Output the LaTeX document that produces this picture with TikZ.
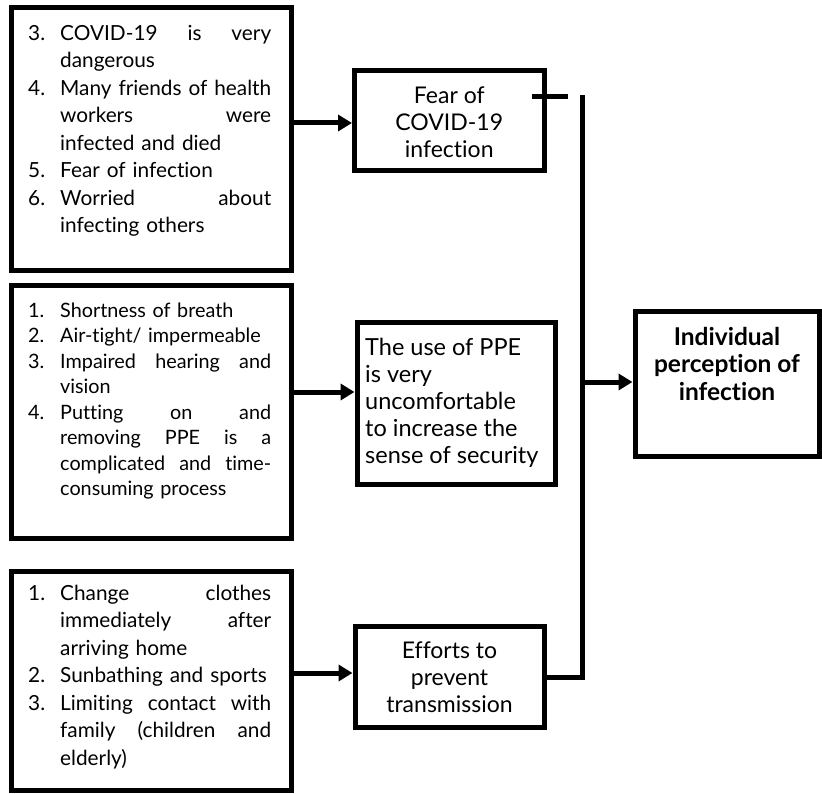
\documentclass[tikz,border=0pt]{standalone}
\usepackage{fontspec}
\setmainfont{Lato}[Ligatures=NoCommon]
\usetikzlibrary{arrows.meta}
\newlength\numw \setlength\numw{32pt}
\newlength\colw \setlength\colw{211pt}
\newcommand\nm[1]{\makebox[\numw][l]{#1}}
\newcommand\jl[1]{\makebox[\colw][l]{#1}}
\newcommand\hind{\hspace*{\numw}}
\begin{document}
\begin{tikzpicture}[x=1pt,y=-1pt,
  box/.style={draw, line width=5pt, inner sep=0pt, minimum width=#1},
  txt/.style={inner sep=0pt, anchor=north west, text width=243pt, align=left},
  ctr/.style={inner sep=0pt, anchor=north, align=center},
  conn/.style={line width=5pt},
  arr/.style={line width=5pt, -{Triangle[length=14pt,width=16pt]}},
  fa/.style={font=\fontsize{20.8}{27.5}\selectfont},
  fb/.style={font=\fontsize{19.8}{25.5}\selectfont},
  fc/.style={font=\fontsize{23}{27}\selectfont},
  fd/.style={font=\fontsize{23.5}{27}\selectfont},
  fe/.style={font=\bfseries\fontsize{24.5}{27.5}\selectfont}]
\useasboundingbox (0,0) rectangle (822,794);
% left boxes
\node[box=280pt, minimum height=263.5pt] (b1) at (151,139.25) {};
\node[box=280pt, minimum height=252pt] (b2) at (151,412) {};
\node[box=280pt, minimum height=219pt] (b3) at (151,680.5) {};
% middle boxes
\node[box=189.5pt, minimum height=100pt] (fear) at (449.25,121) {};
\node[box=198pt, minimum height=161pt] (ppe) at (456,403.5) {};
\node[box=189pt, minimum height=101pt] (eff) at (449.5,676.5) {};
% right box
\node[box=184pt, minimum height=144pt] (ind) at (727,384) {};
% texts
\node[txt, fa] (t1) at (28,20.75) {\strut\nm{3.}\jl{COVID-19\hfill is\hfill very}\\
\hind dangerous\\
\nm{4.}\jl{Many\hfill friends\hfill of\hfill health}\\
\hind\jl{workers\hfill were}\\
\hind infected and died\\
\nm{5.}Fear of infection\\
\nm{6.}\jl{Worried\hfill about}\\
\hind infecting others};
\node[txt, fb] (t2) at (28,299.15) {\strut\nm{1.}Shortness of breath\\
\nm{2.}Air-tight/ impermeable\\
\nm{3.}\jl{Impaired\hfill hearing\hfill and}\\
\hind vision\\
\nm{4.}\jl{Putting\hfill on\hfill and}\\
\hind\jl{removing\hfill PPE\hfill is\hfill a}\\
\hind\jl{complicated\hfill and\hfill time-}\\
\hind consuming process};
\node[txt, fa] (t3) at (28,580.75) {\strut\nm{1.}\jl{Change\hfill clothes}\\
\hind\jl{immediately\hfill after}\\
\hind arriving home\\
\nm{2.}Sunbathing and sports\\
\nm{3.}\jl{Limiting\hfill contact\hfill with}\\
\hind\jl{family\hfill (children\hfill and}\\
\hind elderly)};
\node[ctr, fc] (tf) at (449.25,84.1) {\strut Fear of\\COVID-19\\infection};
\node[inner sep=0pt, anchor=north west, align=left, fd] (tp) at (365,336.1) {\strut The use of PPE\\is very\\uncomfortable\\to increase the\\sense of security};
\node[ctr, fc] (te) at (449.5,639.1) {\strut Efforts to\\prevent\\transmission};
\node[ctr, fe] (ti) at (727,325.75) {\strut Individual\\perception of\\infection};
% connectors
\draw[arr] (b1.east |- 0,123) -- (fear.west |- 0,123);
\draw[arr] (b2.east |- 0,392) -- (ppe.west |- 0,392);
\draw[arr] (b3.east |- 0,673) -- (eff.west |- 0,673);
\coordinate (bt) at (582.5,95);
\coordinate (bb) at (582.5,677);
\coordinate (fs) at (532,97);
\coordinate (fe) at (568,97);
\draw[conn] (fs) -- (fe);
\draw[conn, line join=miter] (eff.east |- bb) -- (bb) -- (bt);
\draw[arr] (bt |- 0,382) -- (ind.west |- 0,382);
\end{tikzpicture}
\end{document}
